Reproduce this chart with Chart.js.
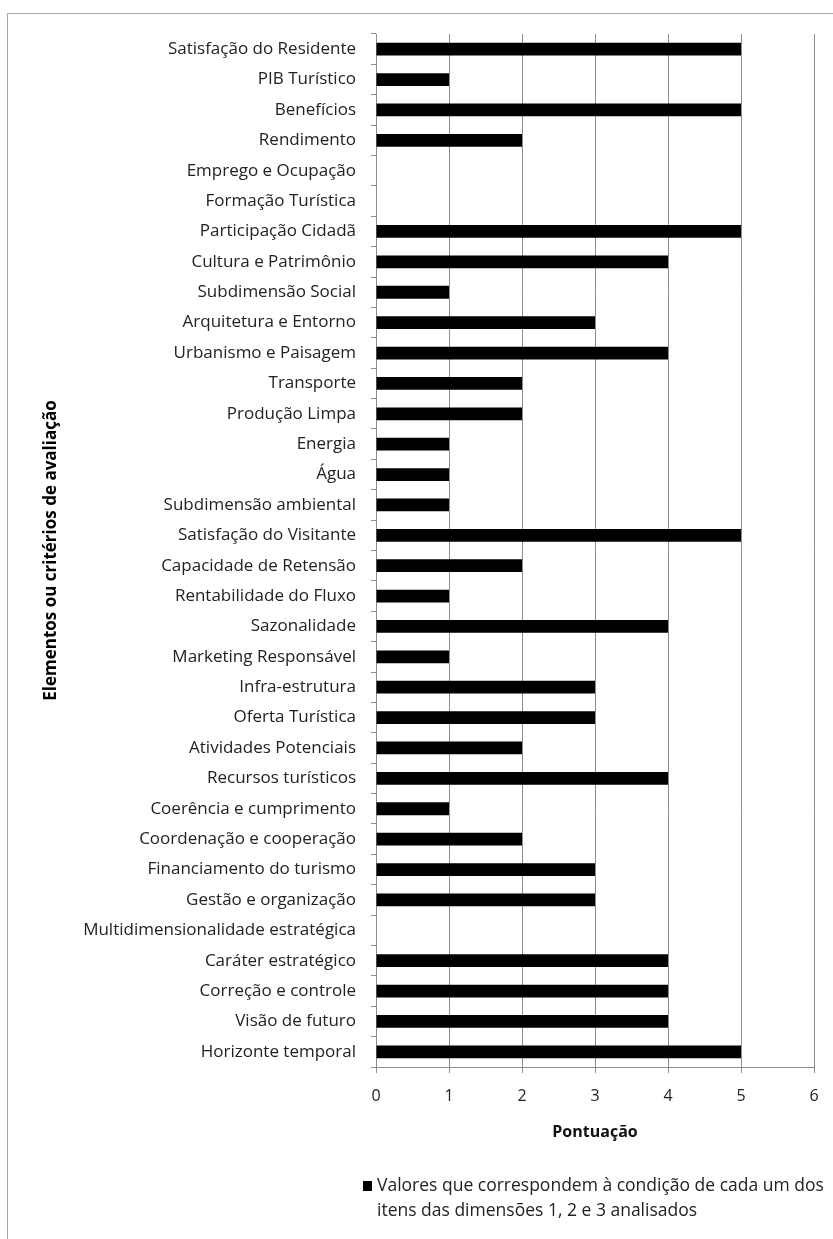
<!DOCTYPE html>
<html>
<head>
<meta charset="utf-8">
<script src="https://cdn.jsdelivr.net/npm/chart.js@4.4.1/dist/chart.umd.min.js"></script>
<style>
  html, body { margin: 0; padding: 0; background: #fff; }
  #wrap { width: 833px; height: 1239px; position: relative; }
</style>
</head>
<body>
<div id="wrap"><canvas id="chartCriterios"></canvas></div>
<script>
const categorias = [
  'Satisfação do Residente', 'PIB Turístico', 'Benefícios', 'Rendimento',
  'Emprego e Ocupação', 'Formação Turística', 'Participação Cidadã',
  'Cultura e Patrimônio', 'Subdimensão Social', 'Arquitetura e Entorno',
  'Urbanismo e Paisagem', 'Transporte', 'Produção Limpa', 'Energia', 'Água',
  'Subdimensão ambiental', 'Satisfação do Visitante', 'Capacidade de Retensão',
  'Rentabilidade do Fluxo', 'Sazonalidade', 'Marketing Responsável',
  'Infra-estrutura', 'Oferta Turística', 'Atividades Potenciais',
  'Recursos turísticos', 'Coerência e cumprimento', 'Coordenação e cooperação',
  'Financiamento do turismo', 'Gestão e organização',
  'Multidimensionalidade estratégica', 'Caráter estratégico',
  'Correção e controle', 'Visão de futuro', 'Horizonte temporal'
];
const pontuacao = [
  5, 1, 5, 2, 0, 0, 5, 4, 1, 3, 4, 2, 2, 1, 1, 1, 5,
  2, 1, 4, 1, 3, 3, 2, 4, 1, 2, 3, 3, 0, 4, 4, 4, 5
];
const ticksX = [0, 1, 2, 3, 4, 5, 6];
const legendaLinhas = [
  'Valores que correspondem à condição de cada um dos',
  'itens das dimensões 1, 2 e 3 analisados'
];

const FONTE = "'Open Sans', sans-serif";
const CINZA = '#8c8c8c';
const PAD_ESQ = 37;

// moldura cinza em volta de tudo (a direita e embaixo saem da imagem)
const moldura = {
  id: 'moldura',
  beforeDraw(chart) {
    const ctx = chart.ctx;
    ctx.save();
    ctx.fillStyle = '#fff';
    ctx.fillRect(0, 0, chart.width, chart.height);
    ctx.strokeStyle = '#a6a6a6';
    ctx.lineWidth = 1;
    ctx.strokeRect(7.5, 13.5, chart.width + 20, chart.height + 20);
    ctx.restore();
  }
};

// legenda em duas linhas, abaixo do titulo do eixo x
const legendaDuasLinhas = {
  id: 'legendaDuasLinhas',
  afterDraw(chart) {
    const ctx = chart.ctx;
    const base = chart.chartArea.bottom + 119;
    ctx.save();
    ctx.fillStyle = '#000';
    ctx.fillRect(363, base - 5, 9, 10);
    ctx.font = '17.5px ' + FONTE;
    ctx.fillStyle = '#222';
    ctx.textBaseline = 'middle';
    ctx.textAlign = 'left';
    legendaLinhas.forEach((linha, i) => ctx.fillText(linha, 377, base + i * 25));
    ctx.restore();
  }
};

const data = {
  labels: categorias,
  datasets: [{
    label: legendaLinhas.join(' '),
    data: pontuacao,
    backgroundColor: '#000',
    borderWidth: 0,
    barPercentage: 0.42,
    categoryPercentage: 1
  }]
};

const config = {
  type: 'bar',
  data: data,
  options: {
    indexAxis: 'y',
    responsive: false,
    animation: false,
    layout: { padding: { top: 34, right: 19, bottom: 93, left: PAD_ESQ } },
    plugins: {
      legend: { display: false },
      tooltip: { enabled: false }
    },
    scales: {
      x: {
        min: 0,
        max: 6,
        afterBuildTicks(scale) { scale.ticks = ticksX.map(v => ({ value: v })); },
        afterFit(scale) { scale.height = 79; },
        grid: { color: CINZA, lineWidth: 1, tickLength: 6, drawOnChartArea: true },
        border: { color: CINZA, width: 1 },
        ticks: { color: '#222', font: { family: FONTE, size: 16 }, padding: 14 },
        title: {
          display: true,
          text: 'Pontuação',
          color: '#111',
          font: { family: FONTE, size: 16, weight: 'bold' },
          padding: { top: 10 }
        }
      },
      y: {
        afterFit(scale) { scale.width = 376 - PAD_ESQ; },
        grid: { color: CINZA, drawOnChartArea: false, drawTicks: true, tickLength: 5, offset: true },
        border: { color: CINZA, width: 1 },
        ticks: { color: '#222', font: { family: FONTE, size: 17 }, padding: 15, autoSkip: false },
        title: {
          display: true,
          text: 'Elementos ou critérios de avaliação',
          color: '#000',
          font: { family: FONTE, size: 17, weight: 'bold' },
          padding: 4
        }
      }
    }
  },
  plugins: [moldura, legendaDuasLinhas]
};

const canvas = document.getElementById('chartCriterios');
canvas.width = 833;
canvas.height = 1239;
new Chart(canvas, config);
</script>
</body>
</html>
